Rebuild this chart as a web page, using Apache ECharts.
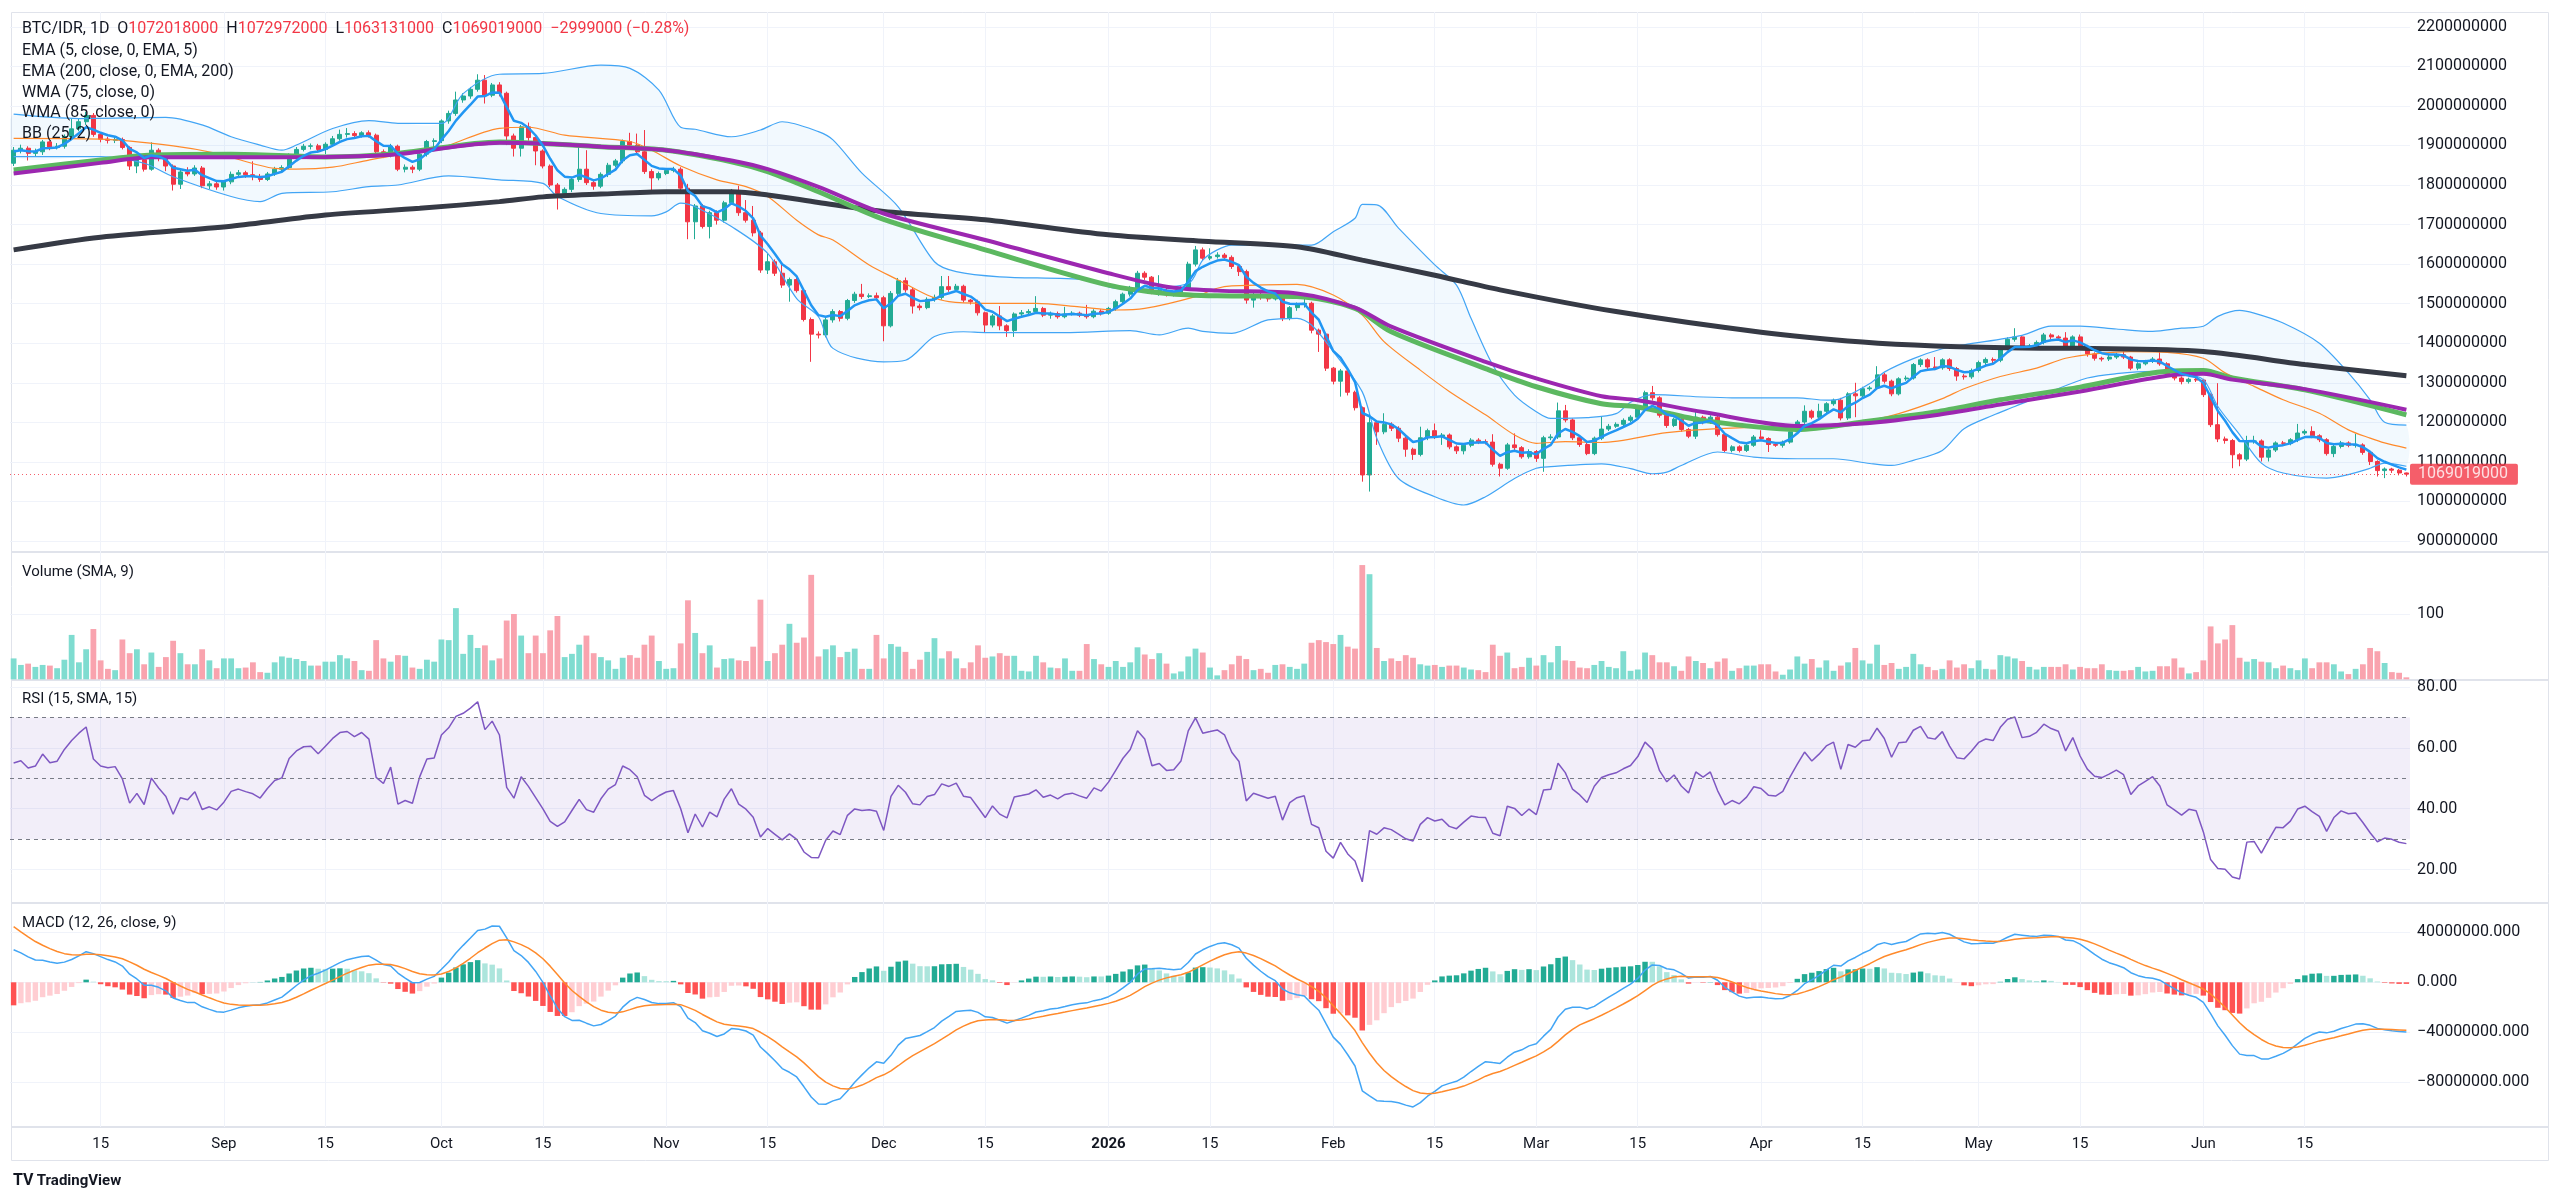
<!DOCTYPE html>
<html lang="en">
<head>
<meta charset="UTF-8">
<title>BTC/IDR, 1D</title>
<style>
  html, body { margin: 0; padding: 0; background: #ffffff; }
  #container { width: 2560px; height: 1202px; }
</style>
</head>
<body>
<div id="container"></div>
<script src="https://cdn.jsdelivr.net/npm/echarts@6/dist/echarts.min.js"></script>
<script>
// daily candles from 2025-08-03, prices in millions of IDR
var startDate = '2025-08-03';

var opens = [
  1855,1888,1893,1880,1884,1909,1895,1898,1922,1942,
  1960,1976,1928,1916,1913,1915,1895,1848,1864,1840,
  1888,1867,1848,1802,1833,1828,1843,1798,1803,1795,
  1808,1827,1831,1826,1822,1814,1828,1840,1844,1876,
  1890,1898,1899,1890,1903,1917,1928,1930,1925,1932,
  1926,1884,1876,1898,1840,1845,1840,1878,1910,1912,
  1962,1981,2015,2025,2042,2065,2027,2053,2032,1924,
  1893,1947,1920,1886,1848,1800,1779,1789,1814,1840,
  1806,1797,1827,1850,1861,1910,1901,1884,1834,1818,
  1829,1837,1840,1792,1707,1747,1695,1730,1711,1755,
  1783,1730,1711,1679,1585,1606,1577,1547,1561,1533,
  1460,1423,1421,1459,1480,1463,1508,1524,1518,1520,
  1515,1444,1526,1558,1535,1494,1490,1511,1516,1543,
  1536,1544,1509,1505,1477,1446,1469,1444,1432,1474,
  1477,1480,1488,1471,1475,1467,1474,1476,1471,1467,
  1481,1476,1488,1505,1524,1539,1577,1567,1530,1534,
  1524,1525,1539,1600,1636,1615,1619,1623,1617,1594,
  1581,1509,1522,1517,1512,1515,1463,1490,1498,1501,
  1433,1423,1337,1304,1330,1276,1237,1067,1199,1176,
  1195,1185,1160,1132,1119,1161,1179,1164,1168,1138,
  1128,1142,1155,1151,1150,1094,1084,1143,1136,1113,
  1126,1109,1161,1163,1229,1206,1161,1144,1121,1160,
  1183,1190,1195,1205,1213,1235,1275,1262,1218,1192,
  1208,1182,1165,1213,1201,1213,1169,1129,1138,1129,
  1142,1163,1159,1144,1142,1150,1176,1201,1228,1213,
  1228,1247,1256,1211,1272,1267,1285,1287,1320,1304,
  1272,1310,1312,1346,1358,1340,1338,1358,1336,1317,
  1315,1331,1351,1359,1357,1388,1410,1416,1390,1393,
  1402,1421,1416,1413,1390,1416,1392,1373,1362,1360,
  1365,1371,1365,1337,1348,1354,1360,1348,1320,1312,
  1303,1309,1307,1270,1194,1158,1154,1118,1107,1152,
  1153,1112,1130,1148,1147,1156,1173,1177,1166,1156,
  1121,1139,1148,1142,1143,1124,1101,1078,1082,1079,
  1072.018
];

var closes = [
  1888,1893,1880,1884,1909,1895,1898,1922,1942,1960,
  1976,1928,1916,1913,1915,1895,1848,1864,1840,1888,
  1867,1848,1802,1833,1828,1843,1798,1803,1795,1808,
  1827,1831,1826,1822,1814,1828,1840,1844,1876,1890,
  1898,1899,1890,1903,1917,1928,1930,1925,1932,1926,
  1884,1876,1898,1840,1845,1840,1878,1910,1912,1962,
  1981,2015,2025,2042,2065,2027,2053,2032,1924,1893,
  1947,1920,1886,1848,1800,1779,1789,1814,1840,1806,
  1797,1827,1850,1861,1910,1901,1884,1834,1818,1829,
  1837,1840,1792,1707,1747,1695,1730,1711,1755,1783,
  1730,1711,1679,1585,1606,1577,1547,1561,1533,1460,
  1423,1421,1459,1480,1463,1508,1524,1518,1520,1515,
  1444,1526,1558,1535,1494,1490,1511,1516,1543,1536,
  1544,1509,1505,1477,1446,1469,1444,1432,1474,1477,
  1480,1488,1471,1475,1467,1474,1476,1471,1467,1481,
  1476,1488,1505,1524,1539,1577,1567,1530,1534,1524,
  1525,1539,1600,1636,1615,1619,1623,1617,1594,1581,
  1509,1522,1517,1512,1515,1463,1490,1498,1501,1433,
  1423,1337,1304,1330,1276,1237,1067,1199,1176,1195,
  1185,1160,1132,1119,1161,1179,1164,1168,1138,1128,
  1142,1155,1151,1150,1094,1084,1143,1136,1113,1126,
  1109,1161,1163,1229,1206,1161,1144,1121,1160,1183,
  1190,1195,1205,1213,1235,1275,1262,1218,1192,1208,
  1182,1165,1213,1201,1213,1169,1129,1138,1129,1142,
  1163,1159,1144,1142,1150,1176,1201,1228,1213,1228,
  1247,1256,1211,1272,1267,1285,1287,1320,1304,1272,
  1310,1312,1346,1358,1340,1338,1358,1336,1317,1315,
  1331,1351,1359,1357,1388,1410,1416,1390,1393,1402,
  1421,1416,1413,1390,1416,1392,1373,1362,1360,1365,
  1371,1365,1337,1348,1354,1360,1348,1320,1312,1303,
  1309,1307,1270,1194,1158,1154,1118,1107,1152,1153,
  1112,1130,1148,1147,1156,1173,1177,1166,1156,1121,
  1139,1148,1142,1143,1124,1101,1078,1082,1079,1072.018,
  1069.019
];

var lows = [
  1848,1880,1862,1872,1876,1888,1890,1892,1915,1936,
  1952,1922,1908,1905,1906,1890,1838,1830,1834,1836,
  1860,1835,1786,1790,1822,1823,1792,1790,1788,1786,
  1802,1820,1818,1812,1808,1810,1823,1835,1840,1870,
  1885,1890,1882,1878,1898,1912,1920,1918,1920,1920,
  1878,1868,1870,1835,1832,1830,1835,1872,1888,1906,
  1955,1975,2008,2018,2036,2006,2022,2024,1901,1872,
  1872,1912,1850,1842,1795,1738,1770,1782,1808,1800,
  1788,1792,1820,1845,1855,1895,1878,1828,1787,1812,
  1825,1832,1785,1663,1663,1690,1665,1700,1705,1750,
  1722,1705,1670,1578,1575,1570,1540,1505,1528,1455,
  1353,1412,1415,1452,1455,1458,1502,1512,1514,1510,
  1405,1440,1520,1528,1475,1483,1486,1505,1510,1530,
  1530,1503,1498,1470,1427,1440,1433,1416,1416,1468,
  1472,1475,1466,1462,1462,1463,1470,1466,1462,1463,
  1470,1472,1482,1500,1518,1534,1560,1524,1520,1518,
  1518,1520,1534,1594,1608,1610,1614,1612,1588,1570,
  1500,1490,1510,1505,1508,1456,1458,1482,1490,1425,
  1378,1330,1296,1265,1268,1230,1050,1025,1143,1170,
  1178,1150,1113,1105,1114,1155,1158,1143,1132,1120,
  1119,1137,1145,1144,1088,1063,1080,1130,1108,1108,
  1100,1075,1155,1158,1200,1155,1138,1117,1117,1155,
  1178,1186,1190,1200,1208,1230,1255,1212,1186,1188,
  1176,1160,1158,1195,1196,1164,1125,1124,1124,1125,
  1138,1153,1125,1138,1136,1146,1172,1196,1208,1208,
  1222,1242,1205,1206,1213,1262,1280,1282,1298,1266,
  1268,1305,1308,1340,1335,1332,1333,1330,1305,1308,
  1310,1326,1345,1350,1352,1382,1404,1384,1385,1388,
  1397,1410,1407,1385,1386,1386,1366,1356,1354,1355,
  1360,1360,1332,1332,1344,1350,1343,1315,1306,1296,
  1298,1302,1264,1188,1150,1146,1084,1089,1102,1146,
  1101,1101,1125,1142,1142,1150,1168,1160,1150,1116,
  1112,1134,1137,1136,1118,1092,1063,1059,1072,1066,
  1063.131
];

var highs = [
  1896,1902,1898,1892,1914,1912,1906,1928,1968,1968,
  1985,1982,1934,1922,1921,1920,1898,1870,1868,1908,
  1893,1872,1852,1838,1845,1850,1848,1810,1808,1812,
  1834,1838,1836,1860,1828,1833,1846,1850,1880,1896,
  1904,1905,1904,1908,1924,1940,1944,1936,1936,1938,
  1930,1890,1904,1902,1852,1850,1882,1914,1918,1966,
  1988,2036,2032,2048,2080,2078,2058,2060,2036,1930,
  1952,1958,1924,1890,1852,1805,1794,1820,1899,1888,
  1812,1832,1856,1866,1915,1932,1930,1939,1840,1834,
  1842,1846,1845,1803,1752,1752,1735,1736,1760,1790,
  1798,1762,1747,1684,1627,1612,1600,1566,1568,1538,
  1465,1430,1464,1486,1484,1512,1530,1550,1526,1528,
  1520,1532,1565,1566,1540,1500,1516,1523,1570,1570,
  1550,1548,1512,1510,1480,1474,1494,1448,1478,1484,
  1486,1519,1492,1480,1480,1492,1481,1480,1497,1486,
  1486,1492,1510,1528,1545,1583,1582,1570,1572,1540,
  1530,1544,1606,1646,1642,1640,1630,1628,1622,1598,
  1586,1527,1528,1522,1520,1518,1494,1503,1522,1505,
  1437,1426,1340,1335,1334,1280,1240,1223,1205,1223,
  1200,1190,1165,1136,1189,1184,1197,1173,1172,1142,
  1146,1160,1160,1157,1170,1098,1148,1172,1140,1132,
  1130,1166,1170,1250,1244,1210,1166,1148,1164,1214,
  1196,1200,1210,1218,1240,1280,1292,1266,1222,1212,
  1212,1186,1228,1217,1218,1217,1172,1142,1142,1147,
  1168,1180,1162,1148,1154,1180,1206,1243,1232,1247,
  1251,1260,1262,1276,1300,1290,1292,1342,1325,1308,
  1314,1318,1350,1362,1362,1365,1362,1362,1340,1322,
  1336,1356,1364,1364,1393,1415,1438,1420,1398,1407,
  1426,1425,1420,1428,1420,1422,1396,1377,1366,1370,
  1376,1379,1368,1352,1358,1365,1378,1352,1325,1316,
  1313,1312,1310,1273,1299,1164,1158,1122,1166,1166,
  1157,1134,1152,1153,1160,1196,1182,1190,1170,1160,
  1143,1153,1152,1171,1147,1127,1104,1086,1085,1082,
  1072.972
];

var volumes = [
  32,22,24,19,22,21,17,30,68,26,
  46,77,29,16,14,61,40,46,23,41,
  19,34,59,40,23,23,46,29,17,32,
  32,17,18,26,11,10,26,35,33,31,
  28,21,21,27,27,37,32,28,14,13,
  60,32,27,37,36,18,16,30,27,61,
  60,109,39,68,48,52,29,32,90,100,
  67,40,67,40,75,97,34,39,53,67,
  40,34,29,16,33,37,33,53,67,28,
  16,17,55,121,71,40,52,18,31,32,
  29,28,50,122,28,40,53,85,56,64,
  160,35,46,52,34,42,47,16,16,68,
  32,54,50,42,16,30,42,63,32,43,
  32,17,26,52,33,35,40,36,36,13,
  12,36,26,18,17,32,13,13,54,31,
  23,19,28,19,26,49,38,31,40,24,
  9,12,35,47,41,18,6,14,23,36,
  31,14,16,10,22,23,19,16,24,56,
  60,57,54,68,50,47,175,161,48,28,
  32,28,37,33,23,21,22,19,21,21,
  18,15,14,11,53,36,41,17,19,33,
  21,37,26,51,29,28,18,17,22,28,
  19,17,43,13,15,41,37,26,26,20,
  13,35,28,25,17,27,32,13,17,21,
  21,23,23,12,7,15,35,24,31,18,
  29,13,21,26,48,29,24,53,22,25,
  16,19,39,23,19,14,16,29,18,23,
  17,29,16,15,37,35,32,28,19,15,
  19,19,19,23,15,19,17,17,23,14,
  13,13,14,19,12,13,20,20,32,18,
  9,11,29,81,55,61,83,33,27,31,
  27,26,17,21,17,14,32,17,26,26,
  23,12,8,16,23,48,43,25,11,10,
  3
];

// indicator lines: [day index, value]
var ema200Pts = [[0,1636],[12,1668],[30,1696],[43,1724],[56,1741],[67,1758],[73,1770],[81,1777],[90,1783],[99,1783],[104,1775],[111,1756],[120,1733],[134,1712],[151,1674],[164,1658],[177,1644],[186,1610],[196,1572],[205,1535],[221,1480],[241,1428],[255,1403],[265,1393],[277,1388],[285,1387],[302,1379],[316,1346],[330,1318]];
var wma75Pts = [[0,1838],[12,1863],[19,1876],[30,1878],[43,1871],[53,1880],[67,1909],[73,1905],[81,1897],[90,1888],[99,1859],[104,1834],[111,1783],[120,1713],[134,1636],[151,1547],[159,1526],[166,1520],[177,1518],[185,1488],[190,1429],[203,1336],[210,1290],[219,1247],[224,1239],[233,1205],[246,1182],[255,1201],[265,1226],[274,1257],[285,1289],[297,1329],[302,1331],[306,1312],[316,1282],[330,1219]];
var wma85Pts = [[0,1829],[12,1856],[19,1870],[30,1870],[43,1871],[53,1878],[67,1907],[73,1905],[81,1897],[90,1888],[99,1862],[104,1840],[111,1795],[120,1728],[134,1661],[151,1577],[159,1543],[166,1533],[177,1526],[185,1490],[190,1442],[203,1353],[210,1311],[219,1266],[224,1256],[233,1226],[246,1191],[255,1197],[265,1218],[274,1245],[285,1278],[297,1318],[302,1323],[306,1308],[316,1284],[330,1232]];
var bbUpper = [[0,1979],[9,1968],[21,1971],[26,1952],[30,1922],[34,1901],[37,1888],[39,1901],[44,1943],[49,1963],[53,1956],[59,1956],[62,2031],[67,2080],[73,2082],[81,2103],[85,2095],[89,2040],[92,1946],[94,1941],[99,1922],[103,1939],[106,1960],[111,1935],[113,1914],[117,1830],[122,1745],[127,1606],[130,1581],[136,1568],[148,1560],[152,1539],[155,1539],[162,1551],[164,1610],[166,1636],[168,1648],[179,1648],[182,1682],[185,1716],[186,1751],[188,1750],[191,1691],[196,1598],[199,1547],[201,1463],[204,1345],[207,1269],[210,1227],[212,1210],[217,1212],[221,1222],[223,1251],[226,1270],[233,1264],[237,1262],[246,1262],[250,1256],[252,1260],[256,1298],[258,1327],[262,1361],[266,1386],[269,1396],[277,1420],[281,1443],[285,1443],[290,1436],[295,1430],[299,1438],[302,1443],[304,1468],[307,1483],[309,1476],[313,1451],[318,1400],[322,1325],[325,1257],[327,1200],[330,1193]];
var bbLower = [[0,1872],[12,1872],[18,1855],[22,1821],[30,1771],[34,1758],[37,1779],[44,1783],[49,1796],[53,1800],[60,1823],[67,1813],[73,1804],[75,1771],[81,1728],[88,1722],[90,1732],[92,1754],[94,1745],[99,1695],[104,1627],[108,1513],[111,1467],[113,1387],[120,1353],[123,1357],[127,1417],[131,1429],[134,1427],[145,1427],[154,1432],[158,1421],[162,1438],[164,1430],[168,1425],[173,1459],[177,1463],[179,1446],[182,1379],[186,1277],[188,1160],[191,1058],[196,1012],[200,991],[203,1012],[207,1058],[210,1084],[212,1088],[219,1095],[223,1083],[226,1070],[228,1074],[230,1091],[235,1125],[240,1112],[246,1108],[251,1108],[256,1096],[259,1091],[262,1104],[266,1129],[269,1184],[273,1218],[276,1240],[281,1278],[286,1312],[290,1323],[295,1329],[299,1325],[302,1308],[304,1240],[307,1169],[310,1097],[313,1072],[319,1059],[322,1068],[325,1084],[327,1097],[330,1089]];
var bbBasis = [[0,1918],[12,1916],[22,1899],[28,1880],[36,1842],[39,1840],[44,1845],[49,1863],[53,1876],[58,1888],[67,1943],[71,1946],[76,1926],[85,1910],[88,1888],[92,1848],[97,1813],[101,1796],[104,1771],[108,1711],[111,1674],[113,1661],[118,1598],[122,1560],[126,1522],[129,1505],[134,1501],[141,1501],[147,1492],[152,1484],[156,1488],[163,1518],[166,1539],[168,1545],[177,1549],[182,1522],[186,1471],[189,1404],[194,1332],[198,1278],[203,1219],[207,1168],[210,1147],[214,1151],[219,1149],[228,1174],[235,1184],[242,1188],[246,1186],[251,1192],[256,1205],[260,1222],[266,1260],[269,1285],[274,1316],[279,1337],[283,1362],[288,1375],[292,1379],[297,1377],[302,1362],[305,1325],[309,1291],[313,1257],[318,1223],[322,1181],[325,1160],[327,1148],[330,1135]];

// starting states read at the first bar (prices in millions)
var ema5Seed = 1885;
var rsiSeed = { avgGain: 12, avgLoss: 9.8 };
var macdSeed = { ema12: 1900, ema26: 1874, signal: 44.4 };

var monthNames = ['Jan','Feb','Mar','Apr','May','Jun','Jul','Aug','Sep','Oct','Nov','Dec'];
var FONT = 'Roboto, "Noto Sans", sans-serif';
var UP = '#22ab94', DOWN = '#f23645';

var n = closes.length;
var dates = [];
(function () {
  var p = startDate.split('-');
  var t = Date.UTC(+p[0], +p[1] - 1, +p[2]);
  for (var i = 0; i < n; i++) {
    var d = new Date(t + i * 86400000);
    dates.push(d.getUTCFullYear() + '-' + ('0' + (d.getUTCMonth() + 1)).slice(-2) + '-' + ('0' + d.getUTCDate()).slice(-2));
  }
})();

function isLabelDay(v) { var d = v.slice(8); return d === '01' || d === '15'; }
function dateLabel(v) {
  var d = v.slice(8), m = +v.slice(5, 7);
  if (d === '15') return '15';
  if (m === 1) return '{b|' + v.slice(0, 4) + '}';
  return monthNames[m - 1];
}

// indicators computed from the closes
var ema5 = [], rsi = [], macd = [], signal = [], hist = [];
(function () {
  var e5 = ema5Seed, ag = rsiSeed.avgGain, al = rsiSeed.avgLoss;
  var e12 = macdSeed.ema12, e26 = macdSeed.ema26, sg = macdSeed.signal;
  for (var i = 0; i < n; i++) {
    var c = closes[i];
    if (i > 0) {
      e5 += (c - e5) * 2 / 6;
      var ch = c - closes[i - 1];
      ag = (ag * 14 + Math.max(ch, 0)) / 15;
      al = (al * 14 + Math.max(-ch, 0)) / 15;
      e12 += (c - e12) * 2 / 13;
      e26 += (c - e26) * 2 / 27;
      sg += ((e12 - e26) - sg) * 2 / 10;
    }
    ema5.push(+e5.toFixed(3));
    rsi.push(+(100 - 100 / (1 + ag / al)).toFixed(2));
    macd.push(+(e12 - e26).toFixed(3));
    signal.push(+sg.toFixed(3));
    hist.push(+((e12 - e26) - sg).toFixed(3));
  }
})();

var candleData = [], volData = [], histData = [];
for (var i = 0; i < n; i++) {
  candleData.push([opens[i], closes[i], lows[i], highs[i]]);
  volData.push({ value: volumes[i], itemStyle: { color: closes[i] >= opens[i] ? '#7fdcd0' : '#f9a3ae' } });
  var h = hist[i], hp = i > 0 ? hist[i - 1] : h;
  var col = h >= 0 ? (h >= hp ? '#22ab94' : '#ace5dc') : (h <= hp ? '#ff5252' : '#ffcdd2');
  histData.push({ value: h, itemStyle: { color: col } });
}

var last = n - 1;
function big(v) { return String(Math.round(v * 1e6)); }
var chg = closes[last] - closes[last - 1];
var pct = chg / closes[last - 1] * 100;
var chgStr = (chg < 0 ? '\u2212' : '+') + big(Math.abs(chg)) + ' (' + (pct < 0 ? '\u2212' : '+') + Math.abs(pct).toFixed(2) + '%)';
var headerText = 'BTC/IDR, 1D  O{v|' + big(opens[last]) + '}  H{v|' + big(highs[last]) + '}  L{v|' +
  big(lows[last]) + '}  C{v|' + big(closes[last]) + '}  {v|' + chgStr + '}';

var T = 'rgba(0,0,0,0)', G = '#f0f3fa';
var labelStyle = { color: '#131722', fontSize: 16, fontFamily: FONT, margin: 7, hideOverlap: false };

function txt(x, y, s, size) {
  return { type: 'text', x: x, y: y, z: 100, silent: true,
    style: { text: s, fill: '#131722', fontSize: size || 16, fontFamily: FONT, verticalAlign: 'middle' } };
}
function sep(y) {
  return { type: 'line', silent: true, shape: { x1: 11, y1: y, x2: 2548, y2: y }, style: { stroke: '#e0e3eb', lineWidth: 2 } };
}

var option = {
  animation: false,
  backgroundColor: '#ffffff',
  textStyle: { fontFamily: FONT },
  grid: [
    { left: 13.625, width: 2392.5, top: 12, height: 1115, outerBoundsMode: 'none' },
    { left: 10, width: 2400, top: 26.8, height: 514.2, outerBoundsMode: 'none' },
    { left: 10, width: 2400, top: 552, height: 127.3, outerBoundsMode: 'none' },
    { left: 10, width: 2400, top: 680.3, height: 219.7, outerBoundsMode: 'none' },
    { left: 10, width: 2400, top: 903, height: 229.6, outerBoundsMode: 'none' }
  ],
  xAxis: [
    { gridIndex: 0, type: 'category', data: dates, boundaryGap: false,
      axisLine: { show: false }, axisTick: { show: false }, axisLabel: { show: false },
      splitLine: { show: true, interval: function (i, v) { return isLabelDay(v); }, lineStyle: { color: G, width: 1 } } },
    { gridIndex: 1, type: 'category', data: dates, boundaryGap: true, show: false },
    { gridIndex: 1, type: 'value', min: -0.5, max: n - 0.5, show: false },
    { gridIndex: 2, type: 'category', data: dates, boundaryGap: true, show: false },
    { gridIndex: 3, type: 'category', data: dates, boundaryGap: true, show: false },
    { gridIndex: 4, type: 'category', data: dates, boundaryGap: true,
      axisLine: { show: false }, axisTick: { show: false }, splitLine: { show: false },
      axisLabel: { interval: function (i, v) { return isLabelDay(v); }, formatter: dateLabel, margin: 4,
        color: '#131722', fontSize: 15, fontFamily: FONT, hideOverlap: false,
        rich: { b: { fontWeight: 'bold', fontSize: 15, color: '#131722', fontFamily: FONT } } } }
  ],
  yAxis: [
    { gridIndex: 0, type: 'value', min: 0, max: 1, show: false },
    { gridIndex: 1, type: 'value', position: 'right', min: 900, max: 2200, interval: 100,
      axisLine: { show: false }, axisTick: { show: false },
      splitLine: { lineStyle: { color: G } },
      axisLabel: Object.assign({ formatter: function (v) { return big(v); } }, labelStyle) },
    { gridIndex: 2, type: 'value', position: 'right', min: 0, max: 195, interval: 100,
      axisLine: { show: false }, axisTick: { show: false },
      splitLine: { lineStyle: { color: [T, G, T] } },
      axisLabel: Object.assign({ formatter: function (v) { return v === 100 ? '100' : ''; } }, labelStyle) },
    { gridIndex: 3, type: 'value', position: 'right', min: 10, max: 82.2, interval: 10,
      axisLine: { show: false }, axisTick: { show: false },
      splitLine: { lineStyle: { color: [T, G, T, G, T, G, T, G, T] } },
      axisLabel: Object.assign({ formatter: function (v) {
        return [20, 40, 60, 80].indexOf(v) >= 0 ? v.toFixed(2) : ''; } }, labelStyle) },
    { gridIndex: 4, type: 'value', position: 'right', min: -120, max: 63.3, interval: 40,
      axisLine: { show: false }, axisTick: { show: false },
      splitLine: { lineStyle: { color: [T, G, G, G, G, T] } },
      axisLabel: Object.assign({ formatter: function (v) {
        var r = Math.round(v);
        if ([40, 0, -40, -80].indexOf(r) < 0 || Math.abs(v - r) > 1e-6) return '';
        return (r < 0 ? '\u2212' : '') + (Math.abs(r) * 1e6).toFixed(3);
      } }, labelStyle) }
  ],
  series: [
    { type: 'line', xAxisIndex: 0, yAxisIndex: 0, data: [], silent: true },
    { type: 'custom', name: 'BB fill', xAxisIndex: 2, yAxisIndex: 1, data: [[0, 1500]], clip: true, silent: true, z: 1,
      renderItem: function (params, api) {
        var pts = [], k;
        for (k = 0; k < bbUpper.length; k++) pts.push(api.coord(bbUpper[k]));
        for (k = bbLower.length - 1; k >= 0; k--) pts.push(api.coord(bbLower[k]));
        return { type: 'polygon', shape: { points: pts, smooth: 0.3 }, style: { fill: 'rgba(33,150,243,0.06)' } };
      } },
    { type: 'candlestick', name: 'BTC/IDR', xAxisIndex: 1, yAxisIndex: 1, data: candleData, barWidth: '62%', z: 2,
      itemStyle: { color: UP, color0: DOWN, borderColor: UP, borderColor0: DOWN, borderWidth: 1 },
      markLine: { silent: true, symbol: ['none', 'none'], data: [{ yAxis: closes[last] }],
        lineStyle: { color: DOWN, type: [1, 3], width: 1, opacity: 0.8 },
        label: { show: true, position: 'end', distance: 0, formatter: big(closes[last]),
          color: '#ffffff', backgroundColor: DOWN, padding: [3, 10, 2, 8], borderRadius: 2,
          fontSize: 16, fontFamily: FONT } } },
    { type: 'line', name: 'BB upper', xAxisIndex: 2, yAxisIndex: 1, data: bbUpper, smooth: 0.3, showSymbol: false, silent: true, z: 3,
      lineStyle: { color: '#42a5f5', width: 1.2 } },
    { type: 'line', name: 'BB lower', xAxisIndex: 2, yAxisIndex: 1, data: bbLower, smooth: 0.3, showSymbol: false, silent: true, z: 3,
      lineStyle: { color: '#42a5f5', width: 1.2 } },
    { type: 'line', name: 'BB basis', xAxisIndex: 2, yAxisIndex: 1, data: bbBasis, smooth: 0.3, showSymbol: false, silent: true, z: 3,
      lineStyle: { color: '#ff8a2b', width: 1.2 } },
    { type: 'line', name: 'EMA 200', xAxisIndex: 2, yAxisIndex: 1, data: ema200Pts, smooth: 0.3, showSymbol: false, silent: true, z: 4,
      lineStyle: { color: '#363a45', width: 5 } },
    { type: 'line', name: 'WMA 75', xAxisIndex: 2, yAxisIndex: 1, data: wma75Pts, smooth: 0.3, showSymbol: false, silent: true, z: 4,
      lineStyle: { color: '#5cb860', width: 5 } },
    { type: 'line', name: 'WMA 85', xAxisIndex: 2, yAxisIndex: 1, data: wma85Pts, smooth: 0.3, showSymbol: false, silent: true, z: 4,
      lineStyle: { color: '#9c27b0', width: 4 } },
    { type: 'line', name: 'EMA 5', xAxisIndex: 1, yAxisIndex: 1, data: ema5, showSymbol: false, silent: true, z: 5,
      lineStyle: { color: '#2196f3', width: 2.5 } },
    { type: 'bar', name: 'Volume', xAxisIndex: 3, yAxisIndex: 2, data: volData, barWidth: '80%', silent: true },
    { type: 'line', name: 'RSI', xAxisIndex: 4, yAxisIndex: 3, data: rsi, showSymbol: false, silent: true, z: 3,
      lineStyle: { color: '#7e57c2', width: 1.5 },
      markArea: { silent: true, itemStyle: { color: 'rgba(126,87,194,0.1)' }, data: [[{ yAxis: 30 }, { yAxis: 70 }]] },
      markLine: { silent: true, symbol: ['none', 'none'], label: { show: false },
        lineStyle: { color: '#787b86', type: [4, 4], width: 1 },
        data: [{ yAxis: 70 }, { yAxis: 50 }, { yAxis: 30 }] } },
    { type: 'bar', name: 'Histogram', xAxisIndex: 5, yAxisIndex: 4, data: histData, barWidth: '75%', silent: true, z: 2 },
    { type: 'line', name: 'MACD', xAxisIndex: 5, yAxisIndex: 4, data: macd, showSymbol: false, silent: true, z: 3,
      lineStyle: { color: '#42a5f5', width: 1.5 } },
    { type: 'line', name: 'Signal', xAxisIndex: 5, yAxisIndex: 4, data: signal, showSymbol: false, silent: true, z: 3,
      lineStyle: { color: '#ff8a2b', width: 1.5 } }
  ],
  graphic: [
    { type: 'rect', silent: true, shape: { x: 11.5, y: 12.5, width: 2537, height: 1148 },
      style: { fill: 'none', stroke: '#e0e3eb', lineWidth: 1 } },
    sep(552), sep(680), sep(903), sep(1127),
    { type: 'text', x: 22, y: 29, z: 100, silent: true,
      style: { text: headerText, fill: '#131722', fontSize: 16, fontFamily: FONT, verticalAlign: 'middle',
        rich: { v: { fill: DOWN, fontSize: 16, fontFamily: FONT } } } },
    txt(22, 51, 'EMA (5, close, 0, EMA, 5)'),
    txt(22, 72, 'EMA (200, close, 0, EMA, 200)'),
    txt(22, 93, 'WMA (75, close, 0)'),
    txt(22, 113, 'WMA (85, close, 0)'),
    txt(22, 134, 'BB (25, 2)'),
    txt(22, 572, 'Volume (SMA, 9)', 15),
    txt(22, 699, 'RSI (15, SMA, 15)', 15),
    txt(22, 923, 'MACD (12, 26, close, 9)', 15),
    { type: 'text', x: 13, y: 1181, z: 100, silent: true,
      style: { text: '{l|TV} {t|TradingView}', verticalAlign: 'middle',
        rich: { l: { fill: '#131722', fontSize: 16, fontWeight: 'bold', fontFamily: FONT },
                t: { fill: '#131722', fontSize: 15, fontWeight: 'bold', fontFamily: FONT } } } }
  ]
};

var chart = echarts.init(document.getElementById('container'));
chart.setOption(option);
</script>
</body>
</html>
